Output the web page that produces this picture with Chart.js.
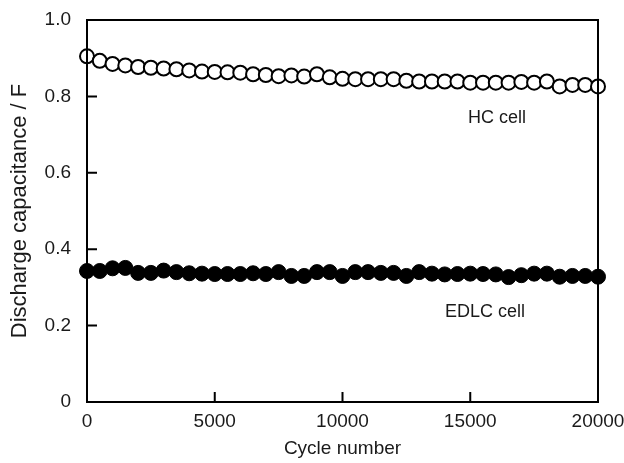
<!DOCTYPE html>
<html>
<head>
<meta charset="utf-8">
<script src="https://cdn.jsdelivr.net/npm/chart.js@4/dist/chart.umd.min.js"></script>
<style>
  body { margin: 0; background: #fff; }
  #wrap { width: 624px; height: 463px; }
</style>
</head>
<body>
<div id="wrap"><canvas id="myChart"></canvas></div>
<script>
// cycle numbers, one point every 500 cycles
const cycles = [0, 500, 1000, 1500, 2000, 2500, 3000, 3500, 4000, 4500,
    5000, 5500, 6000, 6500, 7000, 7500, 8000, 8500, 9000, 9500,
    10000, 10500, 11000, 11500, 12000, 12500, 13000, 13500, 14000, 14500,
    15000, 15500, 16000, 16500, 17000, 17500, 18000, 18500, 19000, 19500, 20000]

const hcCell = [0.905, 0.893, 0.885, 0.881, 0.877, 0.875, 0.873, 0.871, 0.868, 0.865,
    0.864, 0.863, 0.862, 0.858, 0.856, 0.853, 0.855, 0.852, 0.858, 0.850,
    0.846, 0.845, 0.845, 0.845, 0.845, 0.841, 0.839, 0.839, 0.839, 0.839,
    0.836, 0.836, 0.836, 0.836, 0.838, 0.836, 0.839, 0.826, 0.830, 0.830, 0.826]

const edlcCell = [0.343, 0.343, 0.350, 0.351, 0.338, 0.338, 0.344, 0.340, 0.337, 0.336,
    0.335, 0.335, 0.335, 0.337, 0.335, 0.340, 0.330, 0.330, 0.340, 0.340,
    0.330, 0.340, 0.340, 0.338, 0.338, 0.330, 0.340, 0.336, 0.334, 0.335,
    0.336, 0.335, 0.334, 0.327, 0.332, 0.336, 0.336, 0.328, 0.330, 0.330, 0.328]

const xTicks = [0, 5000, 10000, 15000, 20000]
const yTicks = [0, 0.2, 0.4, 0.6, 0.8, 1.0]

// series labels placed in data units
const seriesLabels = [
    { text: 'HC cell', x: 16050, y: 0.743 },
    { text: 'EDLC cell', x: 15580, y: 0.236 }
]

const FONT = "'Liberation Sans', Arial, Helvetica, sans-serif"
const TEXT = '#1a1a1a'

function toPoints(ys) {
    return cycles.map((c, i) => ({ x: c, y: ys[i] }))
}

// frame, inward ticks and series labels
const framePlugin = {
    id: 'frame',
    afterDatasetsDraw(chart) {
        const ctx = chart.ctx
        const { left, right, top, bottom } = chart.chartArea
        const xs = chart.scales.x
        const ys = chart.scales.y
        ctx.save()
        ctx.strokeStyle = '#000'
        ctx.lineWidth = 2
        ctx.strokeRect(left, top, right - left, bottom - top)
        ctx.beginPath()
        xTicks.slice(1, -1).forEach(v => {
            const px = xs.getPixelForValue(v)
            ctx.moveTo(px, bottom)
            ctx.lineTo(px, bottom - 10)
        })
        yTicks.slice(1, -1).forEach(v => {
            const py = ys.getPixelForValue(v)
            ctx.moveTo(left, py)
            ctx.lineTo(left + 10, py)
        })
        ctx.stroke()
        ctx.fillStyle = TEXT
        ctx.font = '18px ' + FONT
        ctx.textAlign = 'center'
        ctx.textBaseline = 'middle'
        seriesLabels.forEach(l => {
            ctx.fillText(l.text, xs.getPixelForValue(l.x), ys.getPixelForValue(l.y))
        })
        ctx.restore()
    }
}

const chartEl = document.getElementById('myChart')
let myChart = new Chart(chartEl, {
    type: 'scatter',
    data: {
        datasets: [{
            label: 'EDLC cell',
            data: toPoints(edlcCell),
            pointRadius: 7.5,
            pointBackgroundColor: '#000',
            pointBorderColor: '#000',
            pointBorderWidth: 1,
            clip: false
        }, {
            label: 'HC cell',
            data: toPoints(hcCell),
            pointRadius: 7,
            pointBackgroundColor: '#fff',
            pointBorderColor: '#000',
            pointBorderWidth: 2,
            clip: false
        }]
    },
    options: {
        responsive: true,
        maintainAspectRatio: false,
        animation: false,
        layout: { padding: { top: 20, right: 26, left: 0, bottom: 0 } },
        plugins: {
            legend: { display: false },
            tooltip: { enabled: false }
        },
        scales: {
            x: {
                type: 'linear',
                min: 0,
                max: 20000,
                afterFit: s => {
                    s.height = 61
                    s.paddingLeft = 0
                    s.paddingRight = 0
                },
                afterBuildTicks: s => { s.ticks = xTicks.map(v => ({ value: v })) },
                grid: { display: false, drawTicks: false },
                border: { display: false },
                ticks: {
                    color: TEXT,
                    padding: 8,
                    maxRotation: 0,
                    font: { family: FONT, size: 19 },
                    callback: v => String(v)
                },
                title: {
                    display: true,
                    text: 'Cycle number',
                    color: TEXT,
                    font: { family: FONT, size: 19 },
                    padding: { top: 0, bottom: 3 }
                }
            },
            y: {
                min: 0,
                max: 1,
                afterFit: s => {
                    s.width = 87
                    s.paddingTop = 0
                    s.paddingBottom = 0
                },
                afterBuildTicks: s => { s.ticks = yTicks.map(v => ({ value: v })) },
                grid: { display: false, drawTicks: false },
                border: { display: false },
                ticks: {
                    color: TEXT,
                    padding: 16,
                    font: { family: FONT, size: 19 },
                    callback: v => v === 0 ? '0' : v.toFixed(1)
                },
                title: {
                    display: true,
                    text: 'Discharge capacitance / F',
                    color: TEXT,
                    font: { family: FONT, size: 22 },
                    padding: { top: 7, bottom: 0 }
                }
            }
        }
    },
    plugins: [framePlugin]
})
</script>
</body>
</html>
